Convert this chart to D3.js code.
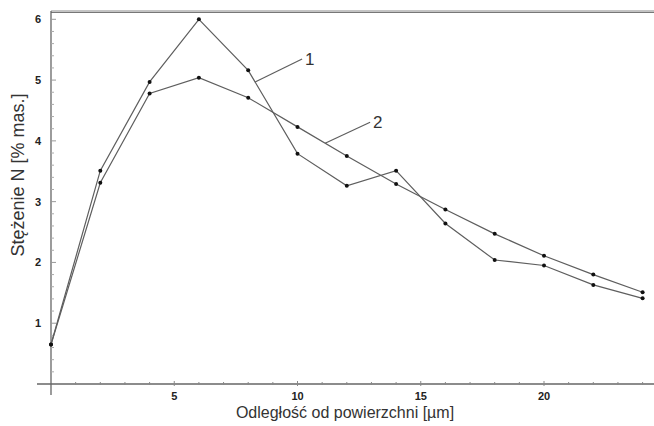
<!DOCTYPE html>
<html>
<head>
<meta charset="utf-8">
<script src="https://cdn.jsdelivr.net/npm/d3@7"></script>
<style>
  html, body { margin: 0; padding: 0; background: #fff; }
  svg { display: block; }
</style>
</head>
<body>
<svg id="chart" width="654" height="426"></svg>
<script>
// Distance from surface [µm]
const depth = [0, 2, 4, 6, 8, 10, 12, 14, 16, 18, 20, 22, 24];
// Nitrogen concentration, curve 1 and curve 2 [% mas.]
const curve1 = [0.65, 3.51, 4.97, 6.0, 5.16, 3.79, 3.26, 3.51, 2.64, 2.04, 1.95, 1.63, 1.41];
const curve2 = [0.65, 3.31, 4.78, 5.04, 4.71, 4.23, 3.75, 3.29, 2.87, 2.47, 2.11, 1.80, 1.51];
const curveNames = ["1", "2"];
const xTicks = [5, 10, 15, 20];
const yTicks = [1, 2, 3, 4, 5, 6];
const xTitle = "Odległość od powierzchni [µm]";
const yTitle = "Stężenie N [% mas.]";

const svg = d3.select("#chart");
const x = d3.scaleLinear().domain([0, 24]).range([51, 642.6]);
const y = d3.scaleLinear().domain([0, 6]).range([384, 19.3]);

const axisColor = "#666";
const lineColor = "#5e5e5e";
const font = "Liberation Sans, Arial, sans-serif";

// frame: top double line
svg.append("line").attr("x1", 51).attr("x2", 654).attr("y1", 11).attr("y2", 11)
  .attr("stroke", "#888").attr("stroke-width", 1);
svg.append("line").attr("x1", 51).attr("x2", 654).attr("y1", 12.5).attr("y2", 12.5)
  .attr("stroke", "#777").attr("stroke-width", 1.2);

// y axis with minor ticks
const yMinor = d3.range(0.2, 6.0, 0.2).filter(v => Math.abs(v - Math.round(v)) > 0.05);
const yAxisG = svg.append("g").attr("transform", "translate(51,0)");
yAxisG.append("line").attr("x1", 0).attr("x2", 0).attr("y1", 11).attr("y2", 395)
  .attr("stroke", axisColor).attr("stroke-width", 1.3);
yAxisG.selectAll("line.minor").data(yMinor).join("line").attr("class", "minor")
  .attr("x1", 0).attr("x2", 3).attr("y1", d => y(d)).attr("y2", d => y(d))
  .attr("stroke", "#aaa").attr("stroke-width", 1);
yAxisG.selectAll("line.major").data(yTicks).join("line").attr("class", "major")
  .attr("x1", 0).attr("x2", 5).attr("y1", d => y(d)).attr("y2", d => y(d))
  .attr("stroke", "#999").attr("stroke-width", 1);
yAxisG.selectAll("text").data(yTicks).join("text")
  .attr("x", -10).attr("y", d => y(d) + 4)
  .attr("text-anchor", "end")
  .attr("font-family", font)
  .attr("font-size", 11).attr("font-weight", "bold").attr("fill", "#222")
  .text(d => d);

// x axis with minor ticks
const xMinor = d3.range(1, 25, 1).filter(v => v % 5 !== 0);
const xAxisG = svg.append("g").attr("transform", "translate(0,384)");
xAxisG.append("line").attr("x1", 37).attr("x2", 654).attr("y1", 0).attr("y2", 0)
  .attr("stroke", axisColor).attr("stroke-width", 1.3);
xAxisG.selectAll("line.minor").data(xMinor).join("line").attr("class", "minor")
  .attr("x1", d => x(d)).attr("x2", d => x(d)).attr("y1", -2).attr("y2", 1)
  .attr("stroke", "#888").attr("stroke-width", 1);
xAxisG.selectAll("line.major").data(xTicks).join("line").attr("class", "major")
  .attr("x1", d => x(d)).attr("x2", d => x(d)).attr("y1", -3).attr("y2", 2)
  .attr("stroke", "#888").attr("stroke-width", 1);
xAxisG.selectAll("text").data(xTicks).join("text")
  .attr("x", d => x(d)).attr("y", 16)
  .attr("text-anchor", "middle")
  .attr("font-family", font)
  .attr("font-size", 11).attr("font-weight", "bold").attr("fill", "#222")
  .text(d => d);

// axis titles
svg.append("text").attr("x", 345).attr("y", 418)
  .attr("text-anchor", "middle")
  .attr("font-family", font)
  .attr("font-size", 16).attr("fill", "#333")
  .text(xTitle);
svg.append("text")
  .attr("transform", "translate(24,175) rotate(-90)")
  .attr("text-anchor", "middle")
  .attr("font-family", font)
  .attr("font-size", 18).attr("fill", "#333")
  .text(yTitle);

// curves
const series = [curve1, curve2];
const line = d3.line().x((d, i) => x(depth[i])).y(d => y(d));
series.forEach(vals => {
  svg.append("path").datum(vals).attr("d", line)
    .attr("fill", "none").attr("stroke", lineColor).attr("stroke-width", 1.2);
  svg.append("g").selectAll("circle").data(vals).join("circle")
    .attr("cx", (d, i) => x(depth[i])).attr("cy", d => y(d)).attr("r", 2)
    .attr("fill", "#111");
});

// curve labels with leader lines (anchored at points along each curve)
const labelSpecs = [
  { name: curveNames[0], vals: curve1, seg: 4, t: 0.14, dx: 47, dy: -23 },
  { name: curveNames[1], vals: curve2, seg: 5, t: 0.56, dx: 45, dy: -21 }
];
labelSpecs.forEach(s => {
  const i = s.seg;
  const px = x(depth[i]) + s.t * (x(depth[i + 1]) - x(depth[i]));
  const py = y(s.vals[i]) + s.t * (y(s.vals[i + 1]) - y(s.vals[i]));
  svg.append("line").attr("x1", px).attr("y1", py)
    .attr("x2", px + s.dx).attr("y2", py + s.dy)
    .attr("stroke", lineColor).attr("stroke-width", 1.2);
  svg.append("text").attr("x", px + s.dx + 3).attr("y", py + s.dy + 6)
    .attr("font-family", font)
    .attr("font-size", 17).attr("fill", "#333")
    .text(s.name);
});
</script>
</body>
</html>
